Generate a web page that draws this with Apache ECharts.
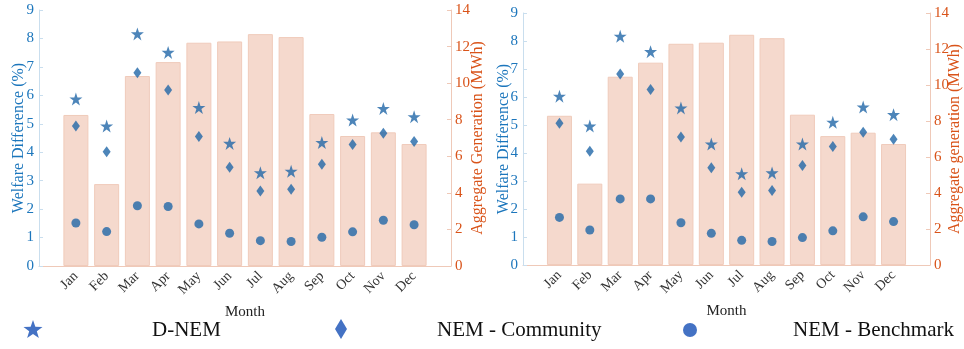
<!DOCTYPE html>
<html><head><meta charset="utf-8">
<script src="https://cdn.jsdelivr.net/npm/echarts@6/dist/echarts.min.js"></script>
<style>html,body{margin:0;padding:0;background:#fff}#c{width:964px;height:349px}</style>
</head><body><div id="c"></div>
<script>
const months = ['Jan','Feb','Mar','Apr','May','Jun','Jul','Aug','Sep','Oct','Nov','Dec'];
const welfareTicks = [0,1,2,3,4,5,6,7,8,9];
const genTicks = [0,2,4,6,8,10,12,14];
// Aggregate generation (MWh)
const genLeft  = [8.26, 4.48, 10.39, 11.15, 12.21, 12.28, 12.68, 12.52, 8.31, 7.11, 7.31, 6.67];
const genRight = [8.29, 4.52, 10.46, 11.24, 12.29, 12.35, 12.79, 12.60, 8.35, 7.16, 7.35, 6.72];
// Welfare difference (%) – left panel
const dnemLeft  = [5.87, 4.92, 8.16, 7.51, 5.57, 4.31, 3.28, 3.33, 4.34, 5.13, 5.54, 5.25];
const commLeft  = [4.92, 4.02, 6.79, 6.19, 4.55, 3.47, 2.64, 2.70, 3.58, 4.27, 4.67, 4.38];
const benchLeft = [1.51, 1.21, 2.12, 2.09, 1.48, 1.15, 0.89, 0.86, 1.01, 1.20, 1.61, 1.45];
// Welfare difference (%) – right panel
const dnemRight  = [6.03, 4.96, 8.17, 7.62, 5.61, 4.32, 3.26, 3.29, 4.32, 5.10, 5.64, 5.37];
const commRight  = [5.06, 4.06, 6.82, 6.27, 4.57, 3.47, 2.60, 2.66, 3.55, 4.23, 4.74, 4.49];
const benchRight = [1.70, 1.25, 2.36, 2.36, 1.51, 1.13, 0.88, 0.84, 0.98, 1.22, 1.72, 1.55];
const legendNames = ['D-NEM', 'NEM - Community', 'NEM - Benchmark'];
const rightTitles = ['Aggregate Generation (MWh)', 'Aggregate generation (MWh)'];

const FONT = 'Liberation Serif';
const BLUE = '#1c76bc', ORANGE = '#d95319', MARK = '#2166a8', LEG = '#4472c4';
const pairs = months.map((m,i)=>i);
const toXY = arr => arr.map((v,i)=>[i,v]);
const STAR = 'path://M50,0 L61.8,35.1 L98.8,35.1 L68.8,56.8 L80.2,91.9 L50,70.2 L19.8,91.9 L31.2,56.8 L1.2,35.1 L38.2,35.1 Z';
function starPts(cx, cy, R){
  const r = R*0.4, pts=[];
  for(let k=0;k<10;k++){
    const a = -Math.PI/2 + k*Math.PI/5, rr = k%2===0 ? R : r;
    pts.push([cx+rr*Math.cos(a), cy+rr*Math.sin(a)]);
  }
  return pts;
}

function xAxis(gi){
  return {type:'value', gridIndex:gi, min:-1.2, max:12.2,
    name:'Month', nameLocation:'middle', nameGap:39, nameMoveOverlap:false,
    nameTextStyle:{fontFamily:FONT, fontSize:15, color:'#222'},
    axisLine:{show:true, onZero:false, lineStyle:{color:'#efc9b8', width:1}},
    axisTick:{show:true, inside:true, length:4, customValues:pairs, lineStyle:{color:'#bbb'}},
    axisLabel:{customValues:pairs, rotate:45, fontFamily:FONT, fontSize:14, color:'#333', margin:8,
      formatter:v=>months[Math.round(v)]},
    splitLine:{show:false}};
}
function yLeft(gi){
  return {type:'value', gridIndex:gi, position:'left', min:0, max:9, interval:1,
    name:'Welfare Difference (%)', nameLocation:'middle', nameRotate:90, nameGap:[12,11][gi], nameMoveOverlap:false,
    nameTextStyle:{fontFamily:FONT, fontSize:16, color:BLUE},
    axisLine:{show:true, onZero:false, lineStyle:{color:'#c9deee'}},
    axisTick:{show:true, inside:true, length:4, lineStyle:{color:'#c9deee'}},
    axisLabel:{fontFamily:FONT, fontSize:15, color:BLUE, margin:5},
    splitLine:{show:false}};
}
function yRight(gi){
  return {type:'value', gridIndex:gi, position:'right', min:0, max:14, interval:2,
    name:rightTitles[gi], nameLocation:'middle', nameRotate:90, nameGap:[19,17][gi], nameMoveOverlap:false,
    nameTextStyle:{fontFamily:FONT, fontSize:16, color:ORANGE},
    axisLine:{show:true, onZero:false, lineStyle:{color:'#efc9b8'}},
    axisTick:{show:true, inside:true, length:4, lineStyle:{color:'#efc9b8'}},
    axisLabel:{fontFamily:FONT, fontSize:15, color:ORANGE, margin:4},
    splitLine:{show:false}};
}
function panel(gi, gen, d, c, b){
  const xi = gi, yl = gi*2, yr = gi*2+1;
  return [
    {type:'bar', name:'gen'+gi, xAxisIndex:xi, yAxisIndex:yr, data:toXY(gen), barWidth:25,
      itemStyle:{color:'#f5d9cd', borderColor:'#f0cbbb', borderWidth:1}, z:1},
    {type:'scatter', name:legendNames[0]+gi, xAxisIndex:xi, yAxisIndex:yl, data:toXY(d),
      symbol:STAR, symbolSize:13, itemStyle:{color:MARK}, z:3},
    {type:'scatter', name:legendNames[1]+gi, xAxisIndex:xi, yAxisIndex:yl, data:toXY(c),
      symbol:'diamond', symbolSize:[8,11], itemStyle:{color:MARK}, z:3},
    {type:'scatter', name:legendNames[2]+gi, xAxisIndex:xi, yAxisIndex:yl, data:toXY(b),
      symbol:'circle', symbolSize:9, itemStyle:{color:MARK}, z:3}
  ];
}
const chart = echarts.init(document.getElementById('c'), null, {renderer:'canvas'});
const legY = 330;
chart.setOption({
  animation:false,
  grid:[{left:39, right:513, top:10, bottom:83}, {left:523, right:32, top:13, bottom:84}],
  xAxis:[xAxis(0), xAxis(1)],
  yAxis:[yLeft(0), yRight(0), yLeft(1), yRight(1)],
  series:[...panel(0, genLeft, dnemLeft, commLeft, benchLeft), ...panel(1, genRight, dnemRight, commRight, benchRight)],
  graphic:[
    {type:'polygon', shape:{points:starPts(33, 330, 10)}, style:{fill:LEG}},
    {type:'text', left:152, top:legY-10, style:{text:legendNames[0], font:'21px "Liberation Serif"', fill:'#111'}},
    {type:'polygon', shape:{points:[[341,319],[347,329],[341,339],[335,329]]}, style:{fill:LEG}},
    {type:'text', left:437, top:legY-10, style:{text:legendNames[1], font:'21px "Liberation Serif"', fill:'#111'}},
    {type:'circle', shape:{cx:690, cy:330, r:7}, style:{fill:LEG}},
    {type:'text', left:793, top:legY-10, style:{text:legendNames[2], font:'21px "Liberation Serif"', fill:'#111'}}
  ]
});
</script></body></html>
